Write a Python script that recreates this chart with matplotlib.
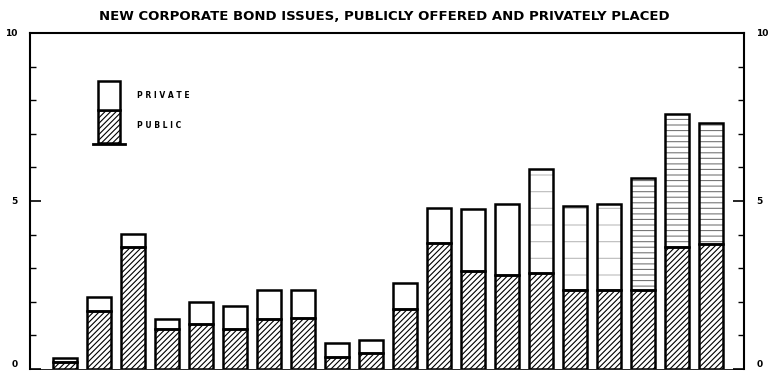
import matplotlib
matplotlib.use("Agg")
from matplotlib import pyplot as plt
import numpy as np

plt.rcParams['hatch.linewidth'] = 0.8

# billions of dollars, one bar per year (20 years)
public = [0.22, 1.73, 3.63, 1.19, 1.33, 1.19, 1.5, 1.53, 0.37, 0.48,
          1.79, 3.76, 2.92, 2.79, 2.86, 2.36, 2.34, 2.36, 3.63, 3.73]
total = [0.34, 2.15, 4.03, 1.5, 2.0, 1.88, 2.34, 2.34, 0.76, 0.85,
         2.56, 4.78, 4.77, 4.9, 5.96, 4.84, 4.92, 5.68, 7.6, 7.32]
private = [t - p for t, p in zip(total, public)]

title = "NEW CORPORATE BOND ISSUES, PUBLICLY OFFERED AND PRIVATELY PLACED"

x = np.arange(len(public))
w = 0.7

fig = plt.figure(figsize=(7.68, 3.72), dpi=100)
ax = fig.add_axes([30 / 768, 3 / 372, 714 / 768, 336 / 372])

# public part: diagonal hatch
ax.bar(x, public, w, color='white', edgecolor='black', hatch='//////', linewidth=0)
# private part: plain, later years stippled
for i in range(len(x)):
    if i >= 17:
        ax.bar(x[i], private[i], w, bottom=public[i], color='white',
               edgecolor='#777777', hatch='---', linewidth=0)
    elif i >= 14:
        ax.bar(x[i], private[i], w, bottom=public[i], color='white',
               edgecolor='#bbbbbb', hatch='-', linewidth=0)
# outlines
ax.bar(x, public, w, color='none', edgecolor='black', linewidth=1.8)
ax.bar(x, private, w, bottom=public, color='none', edgecolor='black', linewidth=1.8)

ax.set_xlim(-1.03, 19.98)
ax.set_ylim(0, 10)
ax.set_xticks([])
ax.set_yticks([0, 5, 10])
ax.set_yticks(range(11), minor=True)
ax.set_yticklabels(['0', '5', '10'], fontsize=6.5, fontweight='bold')
ax.tick_params(axis='y', which='major', direction='in', length=8, width=1.2,
               left=True, right=True, labelleft=True, labelright=True, pad=9)
ax.tick_params(axis='y', which='minor', direction='in', length=4, width=1,
               left=True, right=True)
for lab in ax.get_yticklabels() + ax.get_yticklabels(which='major'):
    pass
ticks = ax.yaxis.get_major_ticks()
ticks[0].label1.set_va('bottom')
ticks[0].label2.set_va('bottom')
for s in ['left', 'right', 'top']:
    ax.spines[s].set_linewidth(1.5)
ax.spines['bottom'].set_linewidth(0.6)

# legend drawn as a little bar
lx = 98 / 768
fig.patches.append(plt.Rectangle((lx, 1 - 143 / 372), 22 / 768, 33 / 372,
                                 transform=fig.transFigure, facecolor='white',
                                 edgecolor='black', hatch='//////', linewidth=1.8))
fig.patches.append(plt.Rectangle((lx, 1 - 110 / 372), 22 / 768, 29 / 372,
                                 transform=fig.transFigure, facecolor='white',
                                 edgecolor='black', linewidth=1.8))
fig.add_artist(plt.Line2D([93 / 768, 125 / 768], [1 - 144 / 372, 1 - 144 / 372],
                          color='black', linewidth=2, transform=fig.transFigure))
fig.text(137 / 768, 1 - 95 / 372, "P R I V A T E", fontsize=5.5, fontweight='bold',
         va='center')
fig.text(137 / 768, 1 - 126 / 372, "P U B L I C", fontsize=5.5, fontweight='bold',
         va='center')

fig.text(384 / 768, 1 - 16 / 372, title, ha='center', va='center',
         fontsize=9.5, fontweight='bold')

plt.savefig('out.png', dpi=100)
